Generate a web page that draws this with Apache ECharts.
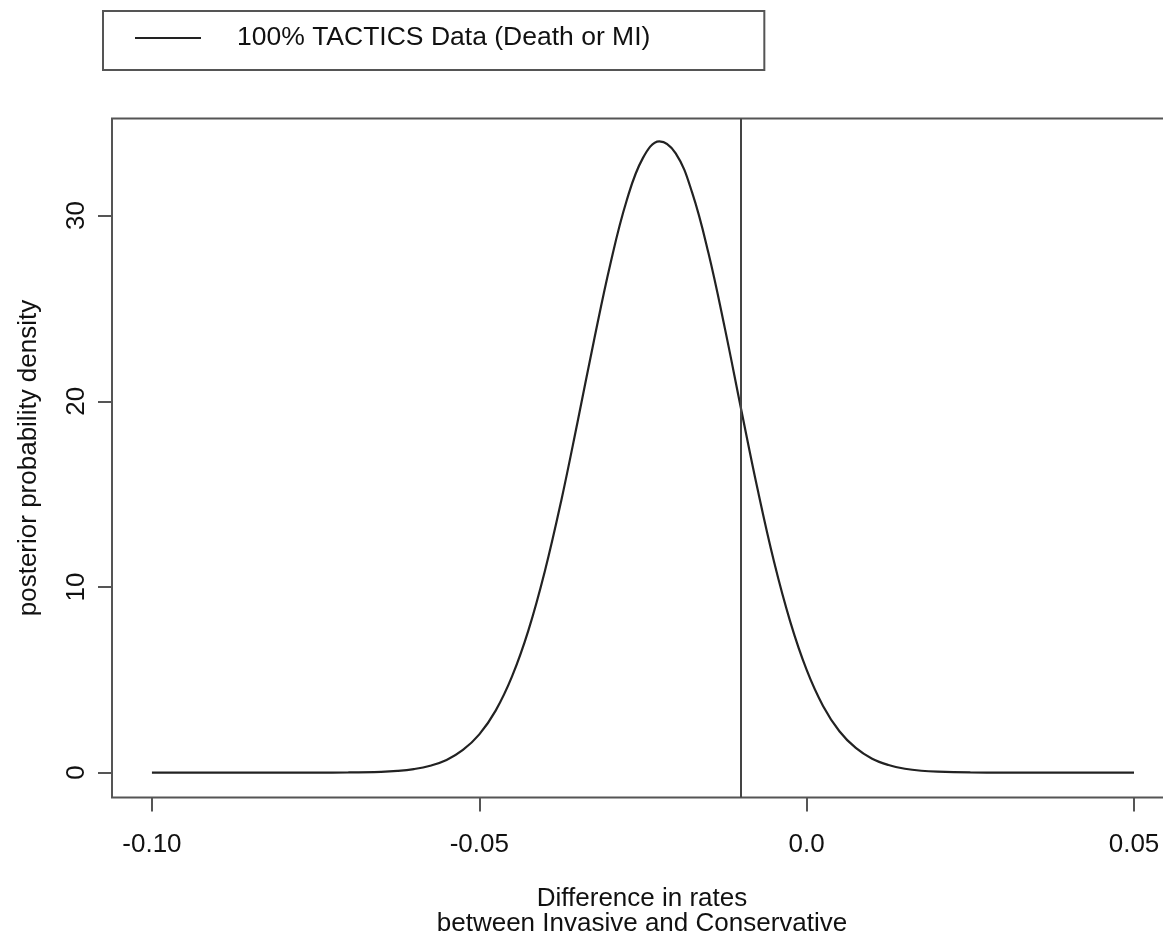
<!DOCTYPE html>
<html>
<head>
<meta charset="utf-8">
<script src="https://cdn.jsdelivr.net/npm/echarts@6/dist/echarts.min.js"></script>
<style>html,body{margin:0;padding:0;background:#fff;}#chart{width:1163px;height:934px;}</style>
</head>
<body>
<div id="chart"></div>
<script>
// Data
const seriesName = '100% TACTICS Data (Death or MI)';
const xValues = [-0.100,-0.095,-0.090,-0.085,-0.080,-0.075,-0.070,-0.065,-0.0625,-0.060,-0.0575,-0.055,-0.0525,-0.050,-0.0475,-0.045,-0.0425,-0.040,-0.0375,-0.035,-0.0325,-0.030,-0.0275,-0.025,-0.0225,-0.020,-0.0175,-0.015,-0.0125,-0.010,-0.0075,-0.005,-0.0025,0.000,0.0025,0.005,0.0075,0.010,0.0125,0.015,0.0175,0.020,0.025,0.030,0.035,0.040,0.045,0.050];
const densityValues = [0,0,0,0,0,0.001,0.008,0.04,0.09,0.19,0.37,0.68,1.22,2.06,3.34,5.18,7.66,10.83,14.62,18.87,23.25,27.37,30.80,33.11,34.0,33.35,31.25,27.98,23.94,19.56,15.27,11.38,8.12,5.53,3.59,2.23,1.33,0.75,0.41,0.21,0.10,0.05,0.01,0.001,0,0,0,0];
const referenceLineX = -0.01;
const xTickValues = [-0.10,-0.05,0.0,0.05];
const xTickLabels = ['-0.10','-0.05','0.0','0.05'];
const yTickValues = [0,10,20,30];
const yTickLabels = ['0','10','20','30'];
const xTitle = 'Difference in rates\nbetween Invasive and Conservative';
const yTitle = 'posterior probability density';

const points = xValues.map((x, i) => [x, densityValues[i]]);
const FONT = 'Liberation Sans, Arial, Helvetica, sans-serif';
const chart = echarts.init(document.getElementById('chart'));
chart.setOption({
  animation: false,
  backgroundColor: '#fff',
  textStyle: {fontFamily: FONT},
  legend: {
    left: 103, top: 11,
    orient: 'horizontal',
    padding: [8, 114, 13, 32],
    borderColor: '#555', borderWidth: 2,
    itemWidth: 66, itemHeight: 2,
    data: [{name: seriesName, icon: 'rect'}],
    textStyle: {fontFamily: FONT, fontSize: 26.5, color: '#111', padding: [8, 0, 0, 31], lineHeight: 30}
  },
  grid: {
    left: 112, top: 118.5, height: 679, width: 1060,
    outerBoundsMode: 'none', containLabel: false,
    show: true, borderColor: '#555', borderWidth: 2, backgroundColor: 'transparent'
  },
  xAxis: {
    type: 'value', min: -0.1061, max: 0.0558,
    splitLine: {show: false},
    axisLine: {show: false, onZero: false},
    axisTick: {show: true, length: 14, customValues: xTickValues, lineStyle: {color: '#555', width: 2}},
    axisLabel: {
      customValues: xTickValues, margin: 34, fontSize: 26, color: '#111', fontFamily: FONT,
      formatter: v => { const i = xTickValues.findIndex(t => Math.abs(t - v) < 1e-9); return i >= 0 ? xTickLabels[i] : ''; }
    },
    name: xTitle, nameLocation: 'middle', nameGap: 89,
    nameTextStyle: {fontSize: 26, color: '#111', lineHeight: 25, fontFamily: FONT}
  },
  yAxis: {
    type: 'value', min: -1.34, max: 35.23,
    splitLine: {show: false},
    axisLine: {show: false, onZero: false},
    axisTick: {show: true, length: 14, customValues: yTickValues, lineStyle: {color: '#555', width: 2}},
    axisLabel: {
      customValues: yTickValues, rotate: 90, margin: 22, fontSize: 26, color: '#111', fontFamily: FONT,
      formatter: v => { const i = yTickValues.findIndex(t => Math.abs(t - v) < 1e-9); return i >= 0 ? yTickLabels[i] : ''; }
    },
    name: yTitle, nameLocation: 'middle', nameGap: 70,
    nameTextStyle: {fontSize: 26, color: '#111', fontFamily: FONT}
  },
  series: [{
    name: seriesName,
    type: 'line',
    data: points,
    smooth: 0.4,
    showSymbol: false,
    color: '#222',
    lineStyle: {color: '#222', width: 2.2},
    markLine: {
      silent: true, symbol: 'none', label: {show: false},
      lineStyle: {color: '#444', width: 2, type: 'solid'},
      data: [{xAxis: referenceLineX}]
    }
  }]
});
</script>
</body>
</html>
